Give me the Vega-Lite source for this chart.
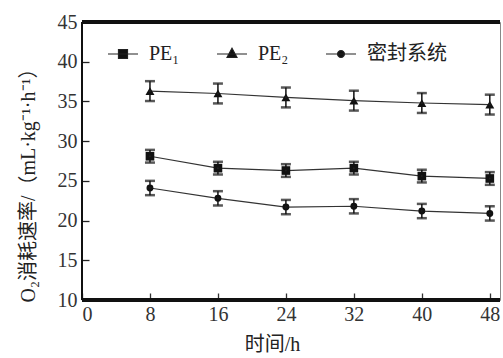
{
  "$schema": "https://vega.github.io/schema/vega-lite/v6.json",
  "autosize": "none",
  "width": 418,
  "height": 278,
  "padding": {"left": 82, "top": 22, "right": 3, "bottom": 58},
  "background": "white",
  "config": {
    "view": {"stroke": "#888", "strokeWidth": 1},
    "font": "Liberation Serif"
  },
  "data": {
    "values": [
      {"t": 8, "series": "PE₁", "v": 28.1, "err": 0.8},
      {"t": 16, "series": "PE₁", "v": 26.6, "err": 0.8},
      {"t": 24, "series": "PE₁", "v": 26.3, "err": 0.8},
      {"t": 32, "series": "PE₁", "v": 26.6, "err": 0.8},
      {"t": 40, "series": "PE₁", "v": 25.6, "err": 0.8},
      {"t": 48, "series": "PE₁", "v": 25.3, "err": 0.8},
      {"t": 8, "series": "PE₂", "v": 36.3, "err": 1.25},
      {"t": 16, "series": "PE₂", "v": 36.0, "err": 1.25},
      {"t": 24, "series": "PE₂", "v": 35.5, "err": 1.25},
      {"t": 32, "series": "PE₂", "v": 35.1, "err": 1.25},
      {"t": 40, "series": "PE₂", "v": 34.8, "err": 1.25},
      {"t": 48, "series": "PE₂", "v": 34.6, "err": 1.25},
      {"t": 8, "series": "密封系统", "v": 24.1, "err": 0.9},
      {"t": 16, "series": "密封系统", "v": 22.8, "err": 0.9},
      {"t": 24, "series": "密封系统", "v": 21.7, "err": 0.9},
      {"t": 32, "series": "密封系统", "v": 21.8, "err": 0.9},
      {"t": 40, "series": "密封系统", "v": 21.2, "err": 0.9},
      {"t": 48, "series": "密封系统", "v": 20.9, "err": 0.9}
    ]
  },
  "encoding": {
    "x": {
      "field": "t", "type": "quantitative",
      "scale": {"domain": [0, 49.2], "nice": false},
      "axis": {
        "values": [0, 8, 16, 24, 32, 40, 48],
        "title": "时间/h",
        "titleFont": "Liberation Serif, Noto Sans CJK SC",
        "titleFontSize": 20,
        "titleFontWeight": "normal",
        "titleColor": "#222",
        "titleX": 190,
        "titleY": 57,
        "titleBaseline": "alphabetic",
        "labelFontSize": 20,
        "labelColor": "#333",
        "labelFont": "Liberation Serif",
        "offset": -7,
        "ticks": true,
        "tickSize": 7,
        "tickColor": "#333",
        "tickWidth": 1.3,
        "labelPadding": 4,
        "domain": false,
        "grid": false
      }
    },
    "y": {
      "field": "v", "type": "quantitative",
      "scale": {"domain": [10, 45], "nice": false, "zero": false},
      "axis": {
        "values": [10, 15, 20, 25, 30, 35, 40, 45],
        "title": "O₂消耗速率/（mL·kg⁻¹·h⁻¹）",
        "titleFont": "Liberation Serif, Noto Sans CJK SC",
        "titleFontSize": 20,
        "titleFontWeight": "normal",
        "titleColor": "#222",
        "titleX": -61,
        "titleY": 158,
        "titleAlign": "center",
        "titleBaseline": "middle",
        "labelFontSize": 20,
        "labelColor": "#333",
        "labelFont": "Liberation Serif",
        "offset": -7,
        "ticks": true,
        "tickSize": 7,
        "tickColor": "#222",
        "tickWidth": 1.3,
        "labelPadding": 5,
        "domain": false,
        "grid": false
      }
    }
  },
  "layer": [
    {
      "mark": {"type": "line", "color": "#333", "strokeWidth": 1.2},
      "encoding": {"detail": {"field": "series"}}
    },
    {
      "mark": {"type": "errorbar", "color": "#111", "thickness": 1.5, "ticks": {"size": 10, "thickness": 2.5, "color": "#111"}},
      "encoding": {
        "yError": {"field": "err"},
        "detail": {"field": "series"}
      }
    },
    {
      "transform": [{"filter": "datum.series == 'PE₁'"}],
      "mark": {"type": "point", "filled": true, "color": "#111", "opacity": 1, "size": 75, "shape": "square"}
    },
    {
      "transform": [{"filter": "datum.series == 'PE₂'"}],
      "mark": {"type": "point", "filled": true, "color": "#111", "opacity": 1, "size": 80, "shape": "triangle-up"}
    },
    {
      "transform": [{"filter": "datum.series == '密封系统'"}],
      "mark": {"type": "point", "filled": true, "color": "#111", "opacity": 1, "size": 48, "shape": "circle"}
    },
    {
      "mark": {"type": "point", "filled": false, "fill": "#111", "stroke": "#222", "strokeWidth": 1.2, "opacity": 1, "size": 1},
      "encoding": {
        "shape": {
          "field": "series", "type": "nominal",
          "scale": {
            "domain": ["PE₁", "PE₂", "密封系统"],
            "range": [
              "M-1,0H1M-0.3,-0.3H0.3V0.3H-0.3Z",
              "M-1,0H1M0,-0.38L0.33,0.22H-0.33Z",
              "M-1,0H1M0.23,0A0.23,0.23,0,1,1,-0.23,0A0.23,0.23,0,1,1,0.23,0Z"
            ]
          },
          "legend": {
            "title": null,
            "orient": "none",
            "direction": "horizontal",
            "padding": 0,
            "legendX": 25,
            "legendY": 16,
            "symbolSize": 900,
            "symbolStrokeWidth": 1.2,
            "labelFont": "Liberation Serif, Noto Sans CJK SC",
            "labelFontSize": 20,
            "labelColor": "#222",
            "labelOffset": 10,
            "columnPadding": 34
          }
        }
      }
    },
    {
      "mark": {"type": "rule", "color": "#111", "strokeWidth": 2.5},
      "encoding": {"y": {"datum": 45}, "x": null}
    },
    {
      "mark": {"type": "rule", "color": "#111", "strokeWidth": 2.5},
      "encoding": {"y": {"datum": 10}, "x": null}
    },
    {
      "mark": {"type": "rule", "color": "#111", "strokeWidth": 1.5},
      "encoding": {"x": {"datum": 0}, "y": null}
    }
  ]
}
